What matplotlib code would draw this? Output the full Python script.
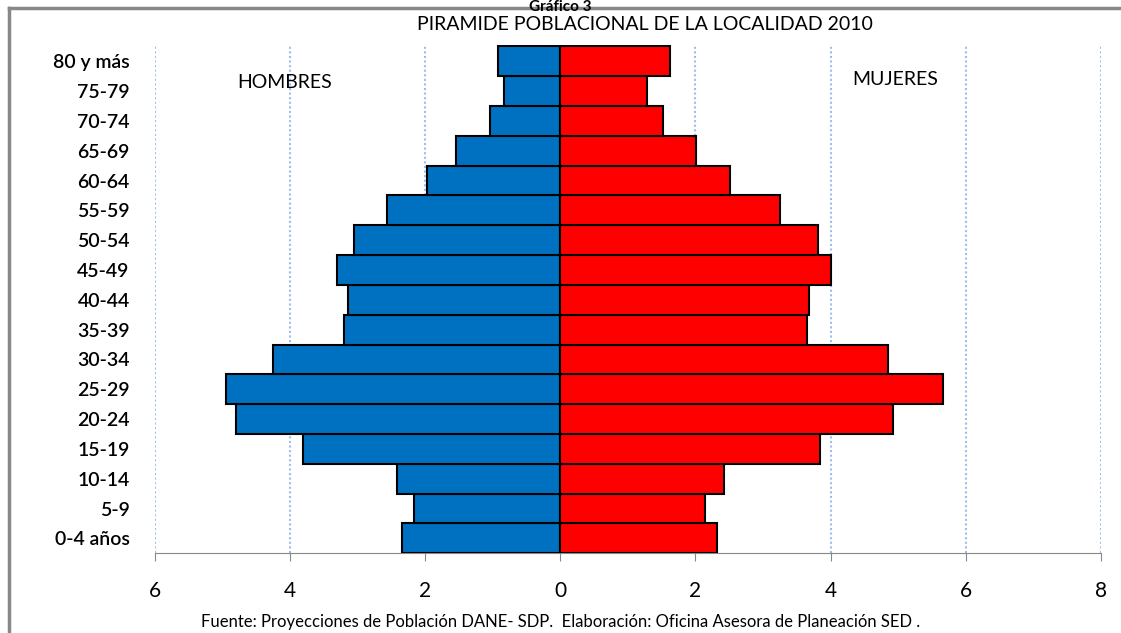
import matplotlib
matplotlib.use("Agg")
import matplotlib.pyplot as plt
import numpy as np

plt.rcParams['font.family'] = ['Lato', 'DejaVu Sans']

grupos = ["0-4 años", "5-9", "10-14", "15-19", "20-24", "25-29", "30-34", "35-39",
          "40-44", "45-49", "50-54", "55-59", "60-64", "65-69", "70-74", "75-79", "80 y más"]
hombres = [2.34, 2.16, 2.41, 3.80, 4.79, 4.94, 4.25, 3.20,
           3.14, 3.30, 3.05, 2.56, 1.97, 1.54, 1.04, 0.83, 0.92]
mujeres = [2.32, 2.15, 2.43, 3.85, 4.93, 5.67, 4.85, 3.65,
           3.68, 4.01, 3.82, 3.25, 2.51, 2.01, 1.52, 1.29, 1.63]
xticks = [-6, -4, -2, 0, 2, 4, 6, 8]
xticklabels = ["6", "4", "2", "0", "2", "4", "6", "8"]

fig = plt.figure(figsize=(11.21, 6.33), dpi=100)
ax = fig.add_axes([0.138, 0.126, 0.844, 0.803])

y = np.arange(len(grupos))
ax.barh(y, [-h for h in hombres], height=1.0, color="#0070C0", edgecolor="black", linewidth=1.5, zorder=3)
ax.barh(y, mujeres, height=1.0, color="#FF0000", edgecolor="black", linewidth=1.5, zorder=3)

ax.set_xlim(-6, 8)
ax.set_ylim(-0.5, len(grupos) - 0.5 + 0.05)
ax.set_xticks(xticks)
ax.set_xticklabels(xticklabels, fontsize=15)
ax.set_yticks(y)
ax.set_yticklabels(grupos, fontsize=14, fontweight='semibold')
ax.tick_params(axis='y', length=0, pad=18)
ax.tick_params(axis='x', length=6, color="#888888", direction='out', pad=14)

for s in ['top', 'right', 'left']:
    ax.spines[s].set_visible(False)
ax.spines['bottom'].set_color("#888888")
ax.grid(axis='x', linestyle=(0, (1, 1.2)), color="#9DBEEA", linewidth=1.5, zorder=0)

ax.text(-4.08, 15.3, "HOMBRES", fontsize=14, ha='center', va='center')
ax.text(4.96, 15.4, "MUJERES", fontsize=14, ha='center', va='center')

fig.text(0.575, 0.962, "PIRAMIDE POBLACIONAL DE LA LOCALIDAD 2010", fontsize=14, ha='center', va='center')
fig.text(0.5, 1.0, "Gráfico 3", fontsize=11, fontweight='bold', ha='center', va='top')
fig.text(0.5, 0.017, "Fuente: Proyecciones de Población DANE- SDP.  Elaboración: Oficina Asesora de Planeación SED .",
         fontsize=12, ha='center', va='center')

# outer frame lines
fig.add_artist(plt.Line2D([0.008, 0.008], [0.0, 0.988], color="#888888", linewidth=2.5, transform=fig.transFigure))
fig.add_artist(plt.Line2D([0.008, 1.0], [0.988, 0.988], color="#888888", linewidth=2.5, transform=fig.transFigure))

fig.savefig("out.png", dpi=100)
